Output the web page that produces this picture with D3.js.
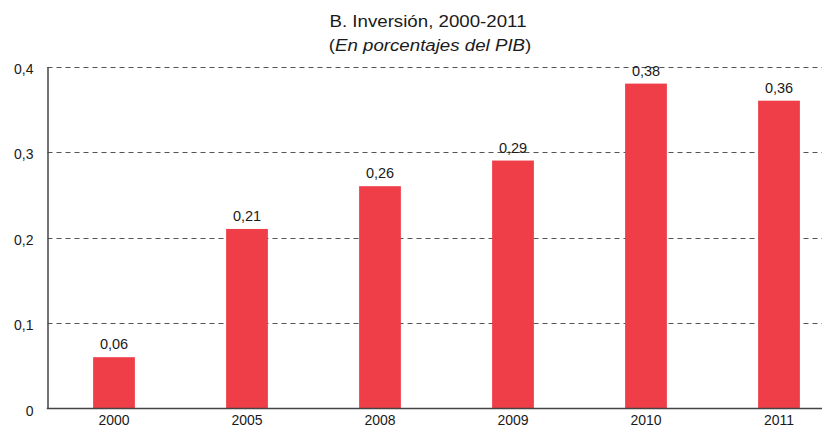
<!DOCTYPE html>
<html><head><meta charset="utf-8">
<script src="https://cdn.jsdelivr.net/npm/d3@7"></script>
<style>body{margin:0;background:#fff;} text{font-family:"Liberation Sans",Arial,sans-serif;}</style>
</head><body>
<svg id="c" width="825" height="430"></svg>
<script>
const categories = ["2000","2005","2008","2009","2010","2011"];
const values = [0.06, 0.21, 0.26, 0.29, 0.38, 0.36];
const yTicks = [0, 0.1, 0.2, 0.3, 0.4];
const title = "B. Inversión, 2000-2011";
const subtitle = "En porcentajes del PIB";

const svg = d3.select("#c");
const x0 = 47.5, xEnd = 822, y0 = 408.5, yTop = 66.5;
const x = d3.scaleBand().domain(categories).range([x0, 845.5]).paddingInner(0.686).paddingOuter(0.343);
const y = d3.scaleLinear().domain([0, 0.4]).range([y0, yTop]);
const fmt = v => d3.format(".2f")(v).replace(".", ",");
const tfmt = v => v === 0 ? "0" : d3.format(".1f")(v).replace(".", ",");
const FF = "Liberation Sans, Arial, sans-serif";

// gridlines
svg.append("g").selectAll("line").data(yTicks.filter(t => t > 0)).join("line")
  .attr("x1", x0).attr("x2", xEnd).attr("y1", d => Math.round(y(d)) + 0.5).attr("y2", d => Math.round(y(d)) + 0.5)
  .attr("stroke", "#555").attr("stroke-width", 1).attr("stroke-dasharray", "5,4");

// bars
svg.append("g").selectAll("rect").data(values).join("rect")
  .attr("x", (d, i) => x(categories[i])).attr("width", x.bandwidth())
  .attr("y", d => y(d)).attr("height", d => y0 - y(d))
  .attr("fill", "#EF3E47");

// value labels
svg.append("g").selectAll("text").data(values).join("text")
  .attr("x", (d, i) => x(categories[i]) + x.bandwidth() / 2).attr("y", d => y(d) - 8)
  .attr("text-anchor", "middle").attr("font-size", 14.5).attr("fill", "#1a1a1a").text(fmt);

// y axis
const ya = svg.append("g").attr("transform", `translate(${x0},0)`)
  .call(d3.axisLeft(y).tickValues(yTicks).tickFormat(tfmt).tickSize(0).tickPadding(14));
ya.select(".domain").attr("stroke", "#444").attr("stroke-width", 1.5);
ya.selectAll("text").attr("font-size", 14).attr("dy", "0.48em").attr("fill", "#1a1a1a").attr("font-family", FF);

// x axis
const xa = svg.append("g").attr("transform", `translate(0,${y0})`)
  .call(d3.axisBottom(x).tickSize(0).tickPadding(7));
xa.select(".domain").remove();
svg.append("line").attr("x1", x0 - 0.75).attr("x2", xEnd).attr("y1", y0).attr("y2", y0)
  .attr("stroke", "#444").attr("stroke-width", 1.5);
xa.selectAll("text").attr("font-size", 14).attr("fill", "#1a1a1a").attr("font-family", FF);

// title
svg.append("text").attr("transform", "translate(428,27) scale(1.1,1)").attr("text-anchor", "middle")
  .attr("font-size", 17).attr("fill", "#1a1a1a").text(title);
const sub = svg.append("text").attr("transform", "translate(430,51) scale(1.1,1)").attr("text-anchor", "middle")
  .attr("font-size", 17).attr("fill", "#1a1a1a");
sub.append("tspan").text("(");
sub.append("tspan").attr("font-style", "italic").text(subtitle);
sub.append("tspan").text(")");
</script>
</body></html>
